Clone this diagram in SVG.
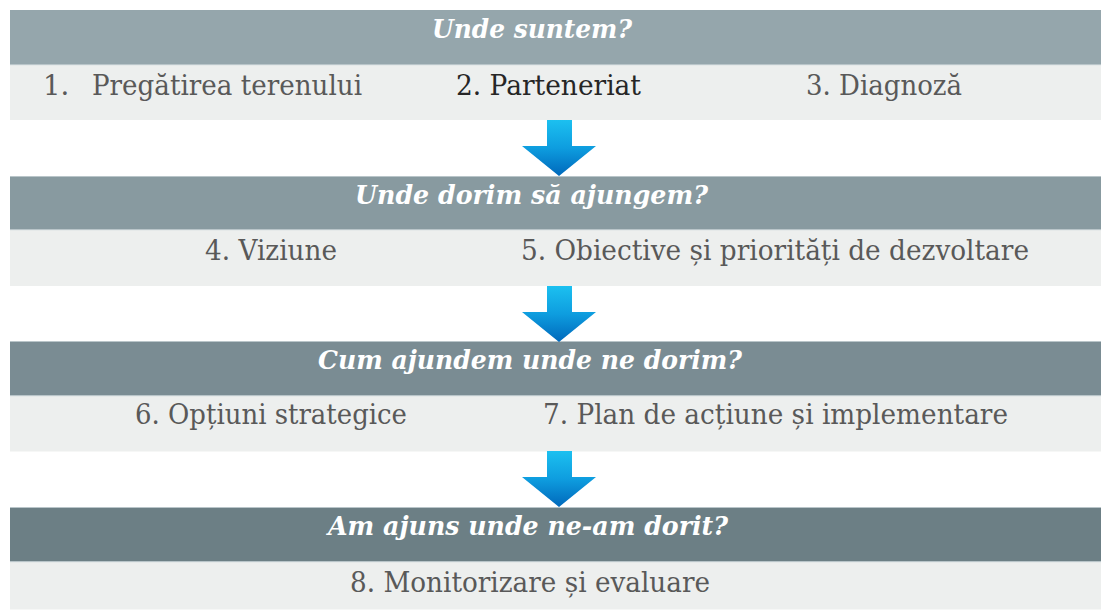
<svg xmlns="http://www.w3.org/2000/svg" width="1101" height="610" viewBox="0 0 1101 610">
  <style>
    .hdr { font-family: "DejaVu Serif", "Liberation Serif", serif; font-size: 26.5px; font-weight: bold; font-style: italic; fill: #ffffff; }
    .item { font-family: "DejaVu Serif", "Liberation Serif", serif; font-size: 27.5px; fill: #595959; }
    .dark { fill: #262626; }
    .row { fill: #edefee; }
    .edge { fill: #b9c5c9; }
    .arrow { fill: url(#arrowGrad); }
  </style>
  <defs>
    <linearGradient id="arrowGrad" x1="0" y1="0" x2="0" y2="1">
      <stop offset="0" stop-color="#1cc0f0"/>
      <stop offset="0.5" stop-color="#0e9ddf"/>
      <stop offset="1" stop-color="#0068bb"/>
    </linearGradient>
    <polygon id="arrowShape" points="547,0 572,0 572,26 596,26 559,56 522,26 547,26"/>
  </defs>
  <rect width="1101" height="610" fill="#ffffff"/>

  <g id="stage1">
    <rect x="10" y="10" width="1091" height="55" fill="#95a6ac"/>
    <rect class="edge" x="10" y="64" width="1091" height="1.5"/>
    <rect class="row" x="10" y="65.5" width="1091" height="54.5"/>
    <text class="hdr" x="432" y="38" textLength="200" lengthAdjust="spacingAndGlyphs">Unde suntem?</text>
    <text class="item" x="43" y="95">1.<tspan x="92" textLength="270" lengthAdjust="spacingAndGlyphs">Pregătirea terenului</tspan></text>
    <text class="item dark" x="456" y="95" textLength="185" lengthAdjust="spacingAndGlyphs">2. Parteneriat</text>
    <text class="item" x="806" y="95" textLength="156" lengthAdjust="spacingAndGlyphs">3. Diagnoză</text>
  </g>

  <g id="stage2">
    <rect x="10" y="176" width="1091" height="54" fill="#889aa0"/>
    <rect class="edge" x="10" y="176" width="1091" height="1"/>
    <rect class="edge" x="10" y="229" width="1091" height="1.5"/>
    <rect class="row" x="10" y="230.5" width="1091" height="55.5"/>
    <text class="hdr" x="355" y="204" textLength="353" lengthAdjust="spacingAndGlyphs">Unde dorim să ajungem?</text>
    <text class="item" x="205" y="260" textLength="132" lengthAdjust="spacingAndGlyphs">4. Viziune</text>
    <text class="item" x="521" y="260" textLength="508" lengthAdjust="spacingAndGlyphs">5. Obiective și priorități de dezvoltare</text>
  </g>

  <g id="stage3">
    <rect x="10" y="341" width="1091" height="55" fill="#7a8c93"/>
    <rect class="edge" x="10" y="341" width="1091" height="1"/>
    <rect class="edge" x="10" y="395" width="1091" height="1.5"/>
    <rect class="row" x="10" y="396.5" width="1091" height="55"/>
    <text class="hdr" x="318" y="369" textLength="424" lengthAdjust="spacingAndGlyphs">Cum ajundem unde ne dorim?</text>
    <text class="item" x="135" y="424" textLength="272" lengthAdjust="spacingAndGlyphs">6. Opțiuni strategice</text>
    <text class="item" x="543" y="424" textLength="465" lengthAdjust="spacingAndGlyphs">7. Plan de acțiune și implementare</text>
  </g>

  <g id="stage4">
    <rect x="10" y="507" width="1091" height="55" fill="#6c7f85"/>
    <rect class="edge" x="10" y="507" width="1091" height="1"/>
    <rect class="edge" x="10" y="561" width="1091" height="1.5"/>
    <rect class="row" x="10" y="562.5" width="1091" height="47"/>
    <text class="hdr" x="328" y="535" textLength="400" lengthAdjust="spacingAndGlyphs">Am ajuns unde ne-am dorit?</text>
    <text class="item" x="350" y="592" textLength="360" lengthAdjust="spacingAndGlyphs">8. Monitorizare și evaluare</text>
  </g>

  <g id="connectors">
    <use href="#arrowShape" class="arrow" transform="translate(0,120)"/>
    <use href="#arrowShape" class="arrow" transform="translate(0,286)"/>
    <use href="#arrowShape" class="arrow" transform="translate(0,451)"/>
  </g>
</svg>
